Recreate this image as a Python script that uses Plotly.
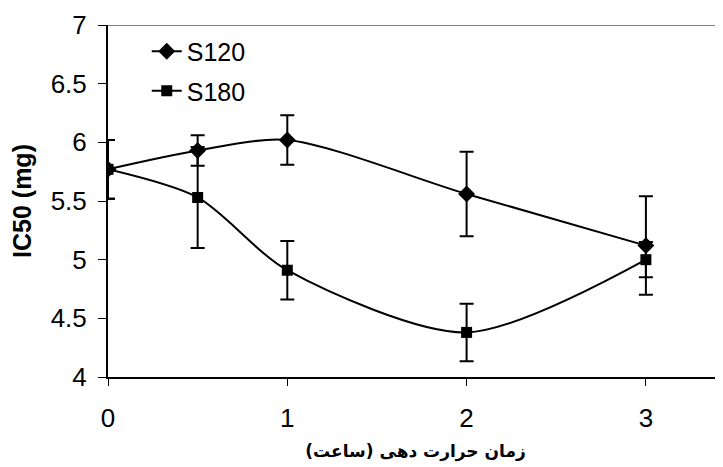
import plotly.graph_objects as go

hours = [0, 0.5, 1, 2, 3]
s120 = [5.77, 5.93, 6.02, 5.56, 5.12]
s120_err = [0.25, 0.13, 0.21, 0.36, 0.42]
s180 = [5.77, 5.53, 4.91, 4.38, 5.00]
s180_err = [0.25, 0.43, 0.25, 0.245, 0.15]

fig = go.Figure()
fig.add_trace(go.Scatter(
    x=hours, y=s120, name="S120", mode="lines+markers", legendgroup="a",
    line=dict(color="black", width=2, shape="spline", smoothing=0.8),
    marker=dict(symbol="diamond", size=13, color="black"),
    error_y=dict(type="data", array=s120_err, visible=True, color="black", thickness=2, width=7),
))
fig.add_trace(go.Scatter(
    x=hours, y=s180, name="S180", mode="lines+markers", legendgroup="b",
    line=dict(color="black", width=2, shape="spline", smoothing=0.8),
    marker=dict(symbol="square", size=11, color="black"),
    error_y=dict(type="data", array=s180_err, visible=True, color="black", thickness=2, width=7),
))

fig.update_layout(
    width=723, height=467,
    margin=dict(l=100, r=8, t=17, b=98),
    plot_bgcolor="white", paper_bgcolor="white",
    font=dict(family="Liberation Sans, Arial", size=26, color="black"),
    showlegend=True,
    legend=dict(x=0.063, y=0.99, xanchor="left", yanchor="top", bgcolor="rgba(0,0,0,0)",
                font=dict(size=25), tracegroupgap=4),
    xaxis=dict(range=[0, 3.43], tickvals=[0, 1, 2, 3], ticks="outside", ticklen=7, tickwidth=1,
               tickcolor="black", showline=True, linecolor="black", linewidth=2, showgrid=False,
               zeroline=False, automargin=False, ticklabelstandoff=10,
               title=dict(text="<b>زمان حرارت دهی (ساعت)</b>", font=dict(family="DejaVu Sans", size=17),
                          standoff=13)),
    yaxis=dict(range=[4, 7], dtick=0.5, ticks="outside", ticklen=8, tickwidth=1, tickcolor="black",
               showline=True, linecolor="black", linewidth=2, showgrid=False, zeroline=False,
               automargin=False, ticklabelstandoff=6,
               title=dict(text="<b>IC50 (mg)</b>", font=dict(size=25), standoff=12)),
    shapes=[dict(type="line", xref="paper", yref="y", x0=0, x1=1, y0=7, y1=7,
                 line=dict(color="#808080", width=2))],
)

fig.write_html("out.html")
